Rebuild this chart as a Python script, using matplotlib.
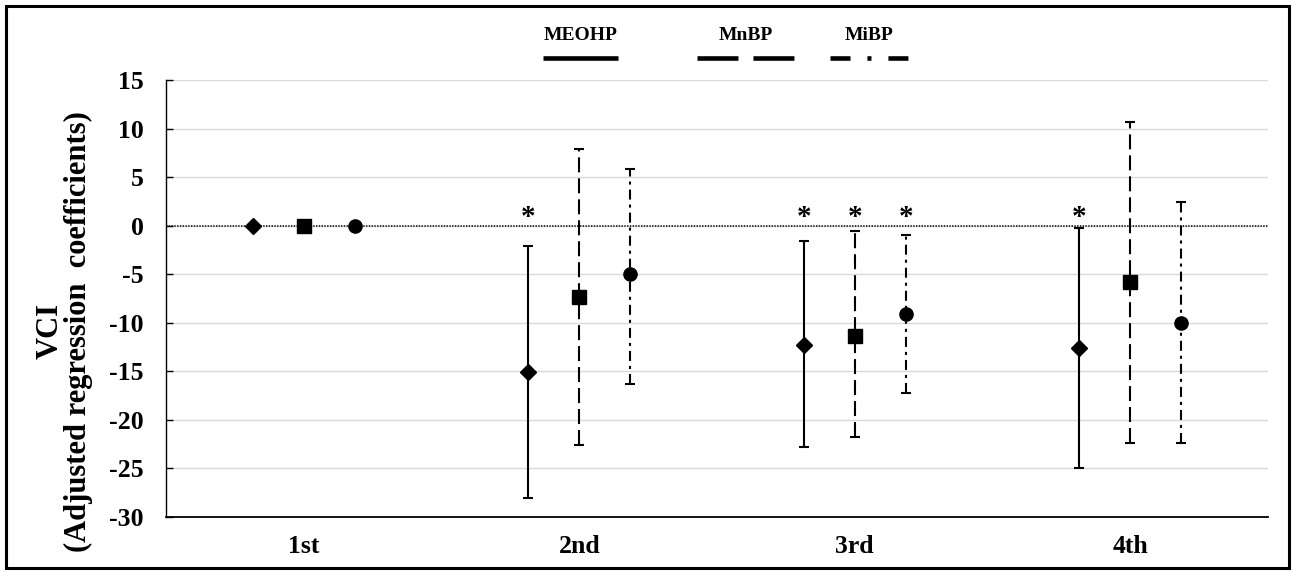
import matplotlib
matplotlib.use("Agg")
import matplotlib.pyplot as plt
from matplotlib.lines import Line2D
from matplotlib.patches import Rectangle
import numpy as np

plt.rcParams['font.family'] = ['Liberation Serif', 'DejaVu Serif']
plt.rcParams['font.weight'] = 'bold'
plt.rcParams['lines.scale_dashes'] = False
plt.rcParams['axes.unicode_minus'] = False

# ---- data ----
categories = ["1st", "2nd", "3rd", "4th"]
series_names = ["MEOHP", "MnBP", "MiBP"]

meohp_est = [0.0, -15.1, -12.3, -12.6]
meohp_lo = [0.0, -28.1, -22.8, -25.0]
meohp_hi = [0.0, -2.1, -1.6, -0.3]

mnbp_est = [0.0, -7.4, -11.4, -5.8]
mnbp_lo = [0.0, -22.6, -21.8, -22.4]
mnbp_hi = [0.0, 7.9, -0.6, 10.7]

mibp_est = [0.0, -5.0, -9.1, -10.0]
mibp_lo = [0.0, -16.3, -17.3, -22.4]
mibp_hi = [0.0, 5.8, -1.0, 2.4]

# significance stars (True = '*')
meohp_sig = [False, True, True, True]
mnbp_sig = [False, False, True, False]
mibp_sig = [False, False, True, False]

y_ticks = [15, 10, 5, 0, -5, -10, -15, -20, -25, -30]

# ---- styles ----
markers = ["D", "s", "o"]
marker_sizes = [8.5, 9.5, 9.5]
bar_styles = ["-", (0, (10.8, 4.3)), (0, (7.2, 3.6, 2.2, 3.6))]
offsets = [-0.185, 0.0, 0.185]

fig = plt.figure(figsize=(12.92, 5.71), dpi=100)
ax = fig.add_axes([166 / 1292, 1 - 516.7 / 571, (1268 - 166) / 1292, (516.7 - 80) / 571])

x = np.arange(len(categories))
ests = [meohp_est, mnbp_est, mibp_est]
los = [meohp_lo, mnbp_lo, mibp_lo]
his = [meohp_hi, mnbp_hi, mibp_hi]
sigs = [meohp_sig, mnbp_sig, mibp_sig]

ax.axhline(0, color='black', lw=1.1, ls=(0, (1, 1)), zorder=2)

for i in range(3):
    est = np.array(ests[i])
    lo = np.array(los[i])
    hi = np.array(his[i])
    xs = x + offsets[i]
    yerr = np.vstack([est - lo, hi - est])
    has_err = (hi - lo) > 0
    line, caps, bars = ax.errorbar(xs[has_err], est[has_err], yerr=yerr[:, has_err], fmt='none',
                                   ecolor='black', elinewidth=1.5, capsize=3.8, capthick=1.5, zorder=3)
    bars[0].set_linestyle(bar_styles[i])
    ax.plot(xs, est, linestyle='none', marker=markers[i], markersize=marker_sizes[i],
            color='black', zorder=4)
    for xi, s in zip(xs, sigs[i]):
        if s:
            ax.annotate("*", xy=(xi, 0), xytext=(0, 0.5), textcoords='offset points',
                        ha='center', va='baseline', fontsize=21, fontweight='bold')

ax.set_xlim(-0.5, 3.5)
ax.set_ylim(-30, 15)
ax.set_yticks(y_ticks)
ax.set_xticks(x)
ax.set_xticklabels(categories)
ax.yaxis.grid(True, color='#d9d9d9', lw=1.0)
ax.set_axisbelow(True)
for s in ['top', 'right']:
    ax.spines[s].set_visible(False)
ax.spines['left'].set_linewidth(1.0)
ax.spines['bottom'].set_linewidth(1.3)
ax.tick_params(axis='y', direction='in', length=5, width=1, pad=16, labelsize=18.5)
ax.tick_params(axis='x', length=0, pad=13, labelsize=18.5)

ax.set_ylabel("VCI\n(Adjusted regression  coefficients)", fontsize=22, fontweight='bold',
              multialignment='center', linespacing=1.0)
ax.yaxis.set_label_coords(-0.066, 0.425)

# ---- legend (above plot) ----
W, H = 1292, 571
leg_specs = [
    ("MEOHP", 543, 618, "-"),
    ("MnBP", 697, 795, (0, (29.5, 10.8))),
    ("MiBP", 830, 908, (0, (14.4, 12.2, 2.9, 12.2))),
]
for name, x0, x1, ls in leg_specs:
    fig.add_artist(Line2D([x0 / W, x1 / W], [1 - 58 / H, 1 - 58 / H], color='black',
                          lw=3.3, ls=ls, solid_capstyle='butt', dash_capstyle='butt'))
    fig.text((x0 + x1) / 2 / W, 1 - 35 / H, name, ha='center', va='center',
             fontsize=14, fontweight='bold')

# ---- outer frame ----
fig.add_artist(Rectangle((6 / W, 3 / H), (1289 - 6) / W, (565 - 3) / H, transform=fig.transFigure,
                         fill=False, edgecolor='black', lw=2.2))

fig.savefig("out.png", dpi=100)
